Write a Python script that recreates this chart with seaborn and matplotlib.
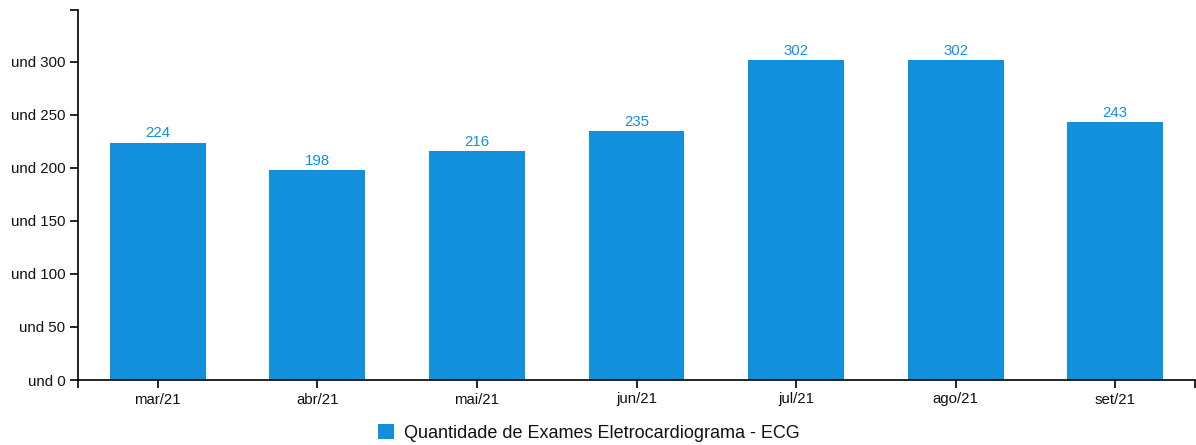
import matplotlib
matplotlib.use("Agg")
import matplotlib.pyplot as plt
import seaborn as sns
import pandas as pd

sns.set_theme(style="white")
plt.rcParams['font.family'] = ['Liberation Sans', 'DejaVu Sans']

months = ["mar/21", "abr/21", "mai/21", "jun/21", "jul/21", "ago/21", "set/21"]
exams = [224, 198, 216, 235, 302, 302, 243]
series_name = "Quantidade de Exames Eletrocardiograma - ECG"
yticks = [0, 50, 100, 150, 200, 250, 300]

blue = "#1390dc"
df = pd.DataFrame({"mes": months, "qtd": exams})

fig = plt.figure(figsize=(11.96, 4.45), dpi=100)
ax = fig.add_axes([78 / 1196, (445 - 380) / 445, (1195 - 78) / 1196, 370 / 445])

sns.barplot(data=df, x="mes", y="qtd", color=blue, width=0.6, saturation=1,
            linewidth=0, ax=ax, label=series_name)

ax.set_xlim(-0.5, len(months) - 0.5)
ax.set_ylim(0, 349)
ax.set_yticks(yticks)
ax.set_yticklabels(["und %d" % v for v in yticks])
# outer end ticks like a d3 axis
ax.set_yticks([349], minor=True)
ax.set_xticks([-0.5, len(months) - 0.5], minor=True)
ax.tick_params(which="both", length=6, width=1.2, color="black", labelsize=10.8,
               labelcolor="#111111", pad=3, bottom=True, left=True)
ax.set_xlabel("")
ax.set_ylabel("")
for s in ["top", "right"]:
    ax.spines[s].set_visible(False)
for s in ["left", "bottom"]:
    ax.spines[s].set_color("black")
    ax.spines[s].set_linewidth(1.2)

for i, v in enumerate(exams):
    ax.annotate(str(v), (i, v), xytext=(0, 1.5), textcoords="offset points",
                ha="center", va="bottom", color=blue, fontsize=10.8)

if ax.legend_:
    ax.legend_.remove()
handles, labels = ax.get_legend_handles_labels()
fig.legend(handles[:1], labels[:1], loc="center", bbox_to_anchor=(0.4925, 0.027),
           frameon=False, fontsize=13, handlelength=0.9, handleheight=0.9,
           handletextpad=0.55, labelcolor="#111111")

fig.savefig("out.png", dpi=100)
